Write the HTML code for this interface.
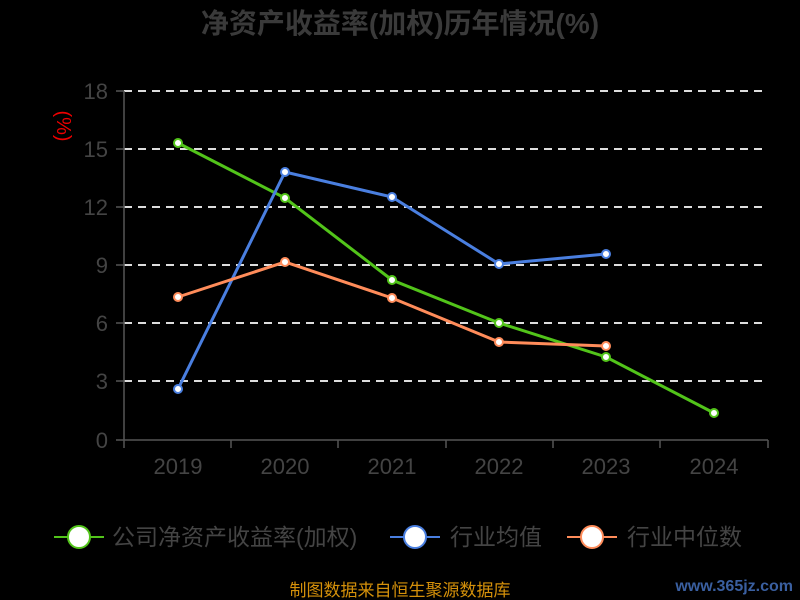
<!DOCTYPE html>
<html><head><meta charset="utf-8"><style>
html,body{margin:0;padding:0;background:#000;}
svg{display:block;font-family:"Liberation Sans","Noto Sans CJK SC",sans-serif;}
</style></head><body>
<svg width="800" height="600" viewBox="0 0 800 600">
<rect width="800" height="600" fill="#000"/>
<text x="400" y="33" text-anchor="middle" font-size="28" font-weight="bold" fill="#3a3a3a">净资产收益率(加权)历年情况(%)</text>
<text transform="translate(57,126) rotate(90)" text-anchor="middle" font-size="20" fill="#e00">(%)</text>
<g stroke="#ddd" stroke-width="2" stroke-dasharray="8,6">
<line x1="124" y1="91" x2="768" y2="91"/>
<line x1="124" y1="149" x2="768" y2="149"/>
<line x1="124" y1="207" x2="768" y2="207"/>
<line x1="124" y1="265" x2="768" y2="265"/>
<line x1="124" y1="323" x2="768" y2="323"/>
<line x1="124" y1="381" x2="768" y2="381"/>
</g>
<g stroke="#555" stroke-width="1.5">
<line x1="124" y1="91" x2="124" y2="440"/>
<line x1="124" y1="440" x2="768" y2="440"/>
<line x1="116" y1="91" x2="124" y2="91"/><line x1="116" y1="149" x2="124" y2="149"/>
<line x1="116" y1="207" x2="124" y2="207"/><line x1="116" y1="265" x2="124" y2="265"/>
<line x1="116" y1="323" x2="124" y2="323"/><line x1="116" y1="381" x2="124" y2="381"/>
<line x1="116" y1="440" x2="124" y2="440"/>
<line x1="124" y1="440" x2="124" y2="448"/><line x1="231" y1="440" x2="231" y2="448"/>
<line x1="338" y1="440" x2="338" y2="448"/><line x1="446" y1="440" x2="446" y2="448"/>
<line x1="553" y1="440" x2="553" y2="448"/><line x1="660" y1="440" x2="660" y2="448"/>
<line x1="768" y1="440" x2="768" y2="448"/>
</g>
<g font-size="22" fill="#444" text-anchor="end">
<text x="108" y="99">18</text><text x="108" y="157">15</text><text x="108" y="215">12</text>
<text x="108" y="273">9</text><text x="108" y="331">6</text><text x="108" y="389">3</text><text x="108" y="448">0</text>
</g>
<g font-size="22" fill="#444" text-anchor="middle">
<text x="178" y="474">2019</text><text x="285" y="474">2020</text><text x="392" y="474">2021</text>
<text x="499" y="474">2022</text><text x="606" y="474">2023</text><text x="714" y="474">2024</text>
</g>
<polyline points="178,143 285,198 392,280 499,323 606,357 714,413" fill="none" stroke="#52c41a" stroke-width="3"/>
<polyline points="178,389 285,172 392,197 499,264 606,254" fill="none" stroke="#4a7fe0" stroke-width="3"/>
<polyline points="178,297 285,262 392,298 499,342 606,346" fill="none" stroke="#ff8c5a" stroke-width="3"/>
<g fill="#fff" stroke="#52c41a" stroke-width="2">
<circle cx="178" cy="143" r="4"/><circle cx="285" cy="198" r="4"/><circle cx="392" cy="280" r="4"/>
<circle cx="499" cy="323" r="4"/><circle cx="606" cy="357" r="4"/><circle cx="714" cy="413" r="4"/>
</g>
<g fill="#fff" stroke="#4a7fe0" stroke-width="2">
<circle cx="178" cy="389" r="4"/><circle cx="285" cy="172" r="4"/><circle cx="392" cy="197" r="4"/>
<circle cx="499" cy="264" r="4"/><circle cx="606" cy="254" r="4"/>
</g>
<g fill="#fff" stroke="#ff8c5a" stroke-width="2">
<circle cx="178" cy="297" r="4"/><circle cx="285" cy="262" r="4"/><circle cx="392" cy="298" r="4"/>
<circle cx="499" cy="342" r="4"/><circle cx="606" cy="346" r="4"/>
</g>
<g font-size="23" fill="#444">
<line x1="54" y1="537" x2="104" y2="537" stroke="#52c41a" stroke-width="2"/>
<circle cx="79" cy="537" r="11" fill="#fff" stroke="#52c41a" stroke-width="2"/>
<text x="112" y="545">公司净资产收益率(加权)</text>
<line x1="390" y1="537" x2="440" y2="537" stroke="#4a7fe0" stroke-width="2"/>
<circle cx="415" cy="537" r="11" fill="#fff" stroke="#4a7fe0" stroke-width="2"/>
<text x="450" y="545">行业均值</text>
<line x1="567" y1="537" x2="617" y2="537" stroke="#ff8c5a" stroke-width="2"/>
<circle cx="592" cy="537" r="11" fill="#fff" stroke="#ff8c5a" stroke-width="2"/>
<text x="627" y="545">行业中位数</text>
</g>
<text x="400" y="596" text-anchor="middle" font-size="17" fill="#d4900a">制图数据来自恒生聚源数据库</text>
<text x="793" y="591" text-anchor="end" font-size="16" font-weight="bold" fill="#3a5fa0">www.365jz.com</text>
</svg>
</body></html>
